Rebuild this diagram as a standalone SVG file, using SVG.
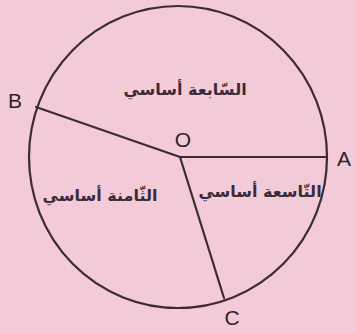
<svg xmlns="http://www.w3.org/2000/svg" width="356" height="333" viewBox="0 0 356 333">
<style>
.ln{stroke:#3b2b36;stroke-width:2.2;fill:none;stroke-linecap:round}
.lbl{font-family:"Liberation Sans",Arial,sans-serif;font-size:21px;fill:#2e2229;text-anchor:middle}
.ar{font-family:"DejaVu Sans",sans-serif;font-size:16px;font-weight:bold;fill:#3b2b36;text-anchor:middle;direction:rtl}
</style>
<rect width="356" height="333" fill="#f3cbd8"/>
<g id="circle"><ellipse cx="178" cy="157" rx="149" ry="151" class="ln"/></g>
<g id="connectors">
<line x1="180" y1="157" x2="327" y2="157" class="ln"/>
<line x1="180" y1="157" x2="36" y2="107" class="ln"/>
<line x1="180" y1="157" x2="224" y2="298" class="ln"/>
</g>
<g id="O"><text x="183" y="147" class="lbl">O</text></g>
<g id="A"><text x="344" y="166" class="lbl">A</text></g>
<g id="B"><text x="15" y="108" class="lbl">B</text></g>
<g id="C"><text x="232" y="325" class="lbl">C</text></g>
<g id="sector-top"><text x="185" y="95" class="ar">السّابعة أساسي</text></g>
<g id="sector-left"><text x="100" y="201" class="ar">الثّامنة أساسي</text></g>
<g id="sector-right"><text x="260" y="197" class="ar">التّاسعة أساسي</text></g>
</svg>
